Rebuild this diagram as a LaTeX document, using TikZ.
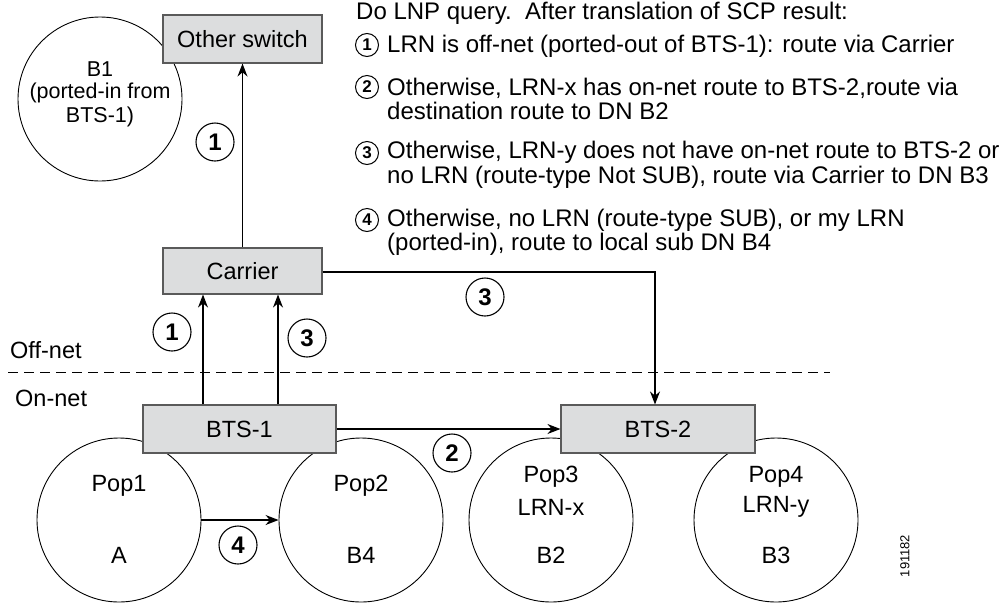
\documentclass[tikz,border=0pt]{standalone}
\usepackage{fontspec}
\setmainfont{Liberation Sans}
\usetikzlibrary{arrows.meta}
\definecolor{boxgray}{RGB}{220,221,222}
\definecolor{boxline}{RGB}{90,90,90}
\tikzset{
  box/.style={draw=boxline, fill=boxgray, line width=1.1pt, inner sep=0pt, font=\fontsize{23.5}{24}\selectfont},
  popc/.style={draw, circle, line width=0.9pt, minimum size=164pt, inner sep=0pt},
  lbl/.style={font=\fontsize{23.5}{25}\selectfont, inner sep=0pt},
  blbl/.style={font=\fontsize{21.5}{23}\selectfont, inner sep=0pt},
  bignum/.style={draw, circle, line width=1.1pt, minimum size=38pt, inner sep=0pt, font=\fontsize{24}{24}\selectfont\bfseries},
  smallnum/.style={draw, circle, line width=1pt, minimum size=23pt, inner sep=0pt, font=\fontsize{17}{17}\selectfont\bfseries},
  conn/.style={line width=1.1pt, -{Stealth[length=13pt,width=10pt]}},
  itemtxt/.style={font=\fontsize{24}{24.5}\selectfont, align=left, anchor=west, inner sep=0pt}
}
\begin{document}
\begin{tikzpicture}[x=1pt,y=-1pt]
\useasboundingbox (0,0) rectangle (1008,603);
% circles first
\node[popc] (b1) at (100,99) {};
\node[popc] (pop1) at (119,520) {};
\node[popc] (pop2) at (361,520) {};
\node[popc] (pop3) at (551,520) {};
\node[popc] (pop4) at (776,520) {};
% circle texts
\node[blbl] (b1t1) at (100,69) {B1};
\node[blbl] (b1t2) at (100,93) {(ported-in from};
\node[blbl] (b1t3) at (100,117) {BTS-1)};
\node[lbl] (p1a) at (119,486) {Pop1};
\node[lbl] (p1b) at (119,555) {A};
\node[lbl] (p2a) at (361,486) {Pop2};
\node[lbl] (p2b) at (361,555) {B4};
\node[lbl] (p3a) at (551,477) {Pop3};
\node[lbl] (p3b) at (551,507) {LRN-x};
\node[lbl] (p3c) at (551,555) {B2};
\node[lbl] (p4a) at (776,477) {Pop4};
\node[lbl] (p4b) at (776,507) {LRN-y};
\node[lbl] (p4c) at (776,555) {B3};
% boxes
\node[box, minimum width=159pt, minimum height=48pt] (other) at (242.5,39) {Other switch};
\node[box, minimum width=159pt, minimum height=46pt] (carrier) at (242.5,271) {Carrier};
\node[box, minimum width=193pt, minimum height=48pt] (bts1) at (239.5,429) {BTS-1};
\node[box, minimum width=194pt, minimum height=48pt] (bts2) at (658,429) {BTS-2};
% dashed boundary
\coordinate (dl) at (8,372);
\coordinate (dr) at (830,372);
\draw[line width=1pt, dash pattern=on 10pt off 6pt] (dl) -- (dr);
\node[lbl, anchor=west] (offnet) at (10,350) {Off-net};
\node[lbl, anchor=west] (onnet) at (15,398) {On-net};
% connectors
\draw[conn] (carrier.north) -- (other.south);
\coordinate (u1) at (203,0);
\coordinate (u3) at (278,0);
\draw[conn] (bts1.north -| u1) -- (carrier.south -| u1);
\draw[conn] (bts1.north -| u3) -- (carrier.south -| u3);
\coordinate (corner) at (655,272);
\draw[conn] (carrier.east |- corner) -- (corner) -- (bts2.north -| corner);
\draw[conn] (bts1.east) -- (bts2.west);
\draw[conn] (pop1.east) -- (pop2.west);
% circled numbers in diagram
\node[bignum] (n1a) at (215,142) {1};
\node[bignum] (n1b) at (172,332) {1};
\node[bignum] (n3a) at (307,338) {3};
\node[bignum] (n3b) at (485,297) {3};
\node[bignum] (n2) at (452,453) {2};
\node[bignum] (n4) at (238,545) {4};
% legend text
\node[itemtxt] (head) at (356,13) {Do LNP query.\ \ After translation of SCP result:};
\node[smallnum] (s1) at (367,45) {1};
\node[itemtxt] (t1) at (387,46) {LRN is off-net (ported-out of BTS-1): route via Carrier};
\node[smallnum] (s2) at (367,87) {2};
\node[itemtxt] (t2) at (387,99) {Otherwise, LRN-x has on-net route to BTS-2,route via\\destination route to DN B2};
\node[smallnum] (s3) at (367,153) {3};
\node[itemtxt] (t3) at (387,165) {Otherwise, LRN-y does not have on-net route to BTS-2 or\\no LRN (route-type Not SUB), route via Carrier to DN B3};
\node[smallnum] (s4) at (367,220) {4};
\node[itemtxt] (t4) at (387,232.5) {Otherwise, no LRN (route-type SUB), or my LRN\\(ported-in), route to local sub DN B4};
% figure number
\node[font=\fontsize{13}{13}\selectfont, rotate=90, inner sep=0pt] (fig) at (905,556) {191182};
\end{tikzpicture}
\end{document}
